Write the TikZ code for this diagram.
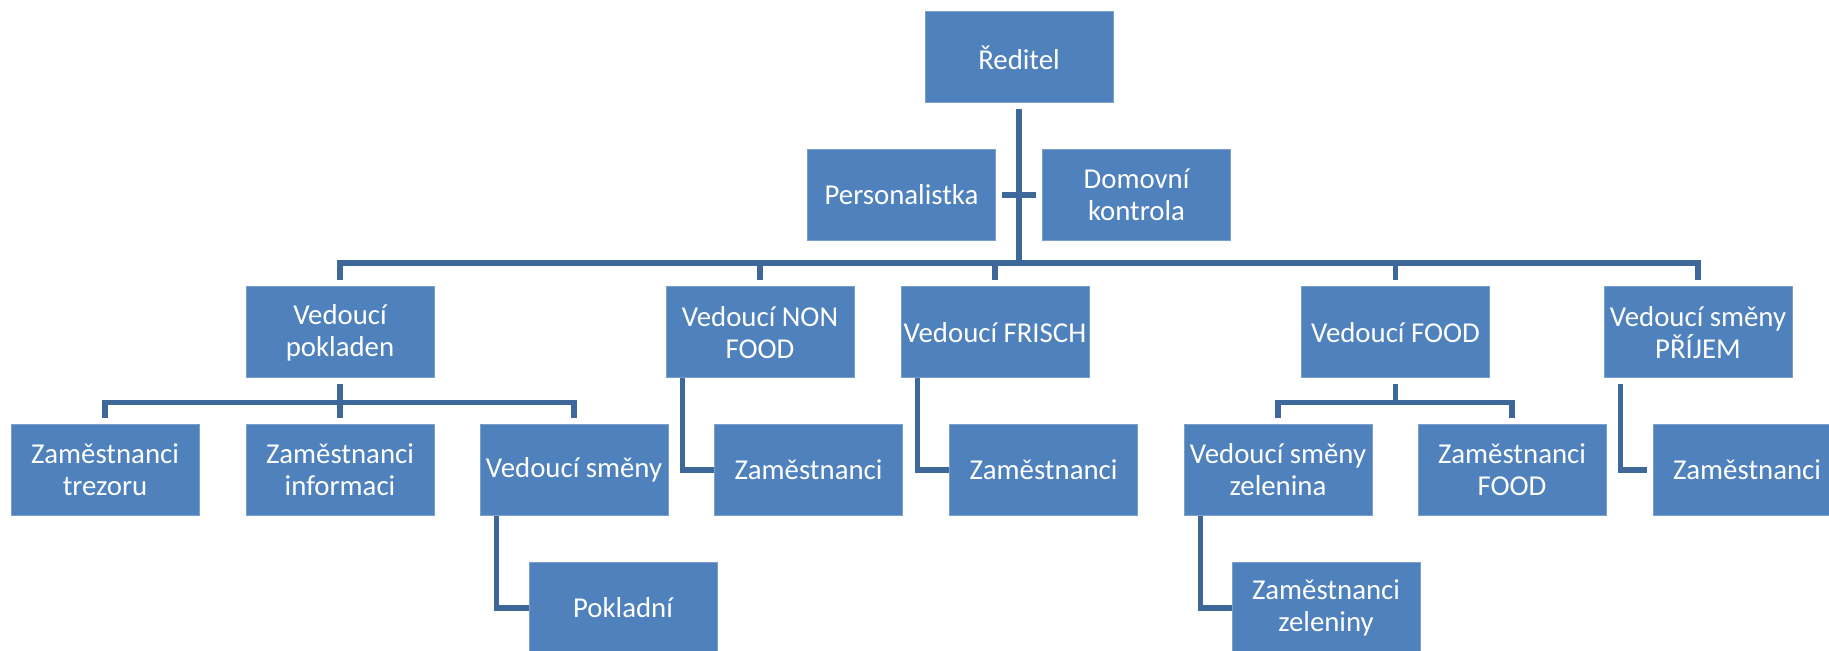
\documentclass[tikz,border=0pt]{standalone}
\usepackage{fontspec}
\setmainfont{Carlito}
\usetikzlibrary{positioning,calc}
\definecolor{boxblue}{HTML}{4F81BD}
\definecolor{lineblue}{HTML}{3D6899}

\begin{document}
\begin{tikzpicture}[x=0.5pt,y=-0.5pt,unit node/.style={rectangle,draw=boxblue!75!white,line width=0.5pt,fill=boxblue,text=white,minimum width=94pt,minimum height=45.5pt,inner xsep=0.5pt,inner ysep=1pt,align=center,font=\fontsize{14.4}{16}\selectfont},link/.style={draw=lineblue,line width=2.6pt,shorten <=3pt,shorten >=3pt}]

            \useasboundingbox (0,0) rectangle (1829,651);

            % top
            \node[unit node] (red) at (1019,57.5) {Ředitel};
            \node[unit node] (pers) at (901.5,195) {Personalistka};
            \node[unit node] (dom) at (1136.5,195) {Domovní\\kontrola};

            % vedouci
            \node[unit node] (pokl) at (340,332.5) {Vedoucí\\pokladen};
            \node[unit node] (nonfood) at (760,332.5) {Vedoucí NON\\FOOD};
            \node[unit node] (frisch) at (995,332.5) {Vedoucí FRISCH};
            \node[unit node] (food) at (1395.5,332.5) {Vedoucí FOOD};
            \node[unit node] (prijem) at (1698,332.5) {Vedoucí směny\\PŘÍJEM};

            % zamestnanci
            \node[unit node] (trez) at (105,470) {Zaměstnanci\\trezoru};
            \node[unit node] (info) at (340,470) {Zaměstnanci\\informaci};
            \node[unit node] (smeny) at (574,470) {Vedoucí směny};
            \node[unit node] (zamnf) at (808.5,470) {Zaměstnanci};
            \node[unit node] (zamfr) at (1043.5,470) {Zaměstnanci};
            \node[unit node] (zel) at (1278,470) {Vedoucí směny\\zelenina};
            \node[unit node] (zfood) at (1512,470) {Zaměstnanci\\FOOD};
            \node[unit node] (zampr) at (1747,470) {Zaměstnanci};

            \node[unit node] (pokladni) at (623,608) {Pokladní};
            \node[unit node] (zelen) at (1326,608) {Zaměstnanci\\zeleniny};

            \coordinate (trunk) at (1019,263);

            \foreach \n in {pokl,nonfood,frisch,food,prijem}
                \draw[link] (red.south) -- (trunk) -| (\n.north);
            \draw[link] (pers) -- (dom);

            \foreach \n in {trez,info,smeny}
                \draw[link] (pokl.south) -- ++(0,24) -| (\n.north);
            \foreach \n in {zel,zfood}
                \draw[link] (food.south) -- ++(0,24) -| (\n.north);

            \path[link]
                ([xshift=8.5pt]smeny.south west) |- (pokladni.west)
                ([xshift=8.5pt]nonfood.south west) |- (zamnf.west)
                ([xshift=8.5pt]frisch.south west) |- (zamfr.west)
                ([xshift=8.5pt]zel.south west) |- (zelen.west)
                ([xshift=8.5pt]prijem.south west) |- (zampr.west)
            ;
        \end{tikzpicture}
\end{document}
